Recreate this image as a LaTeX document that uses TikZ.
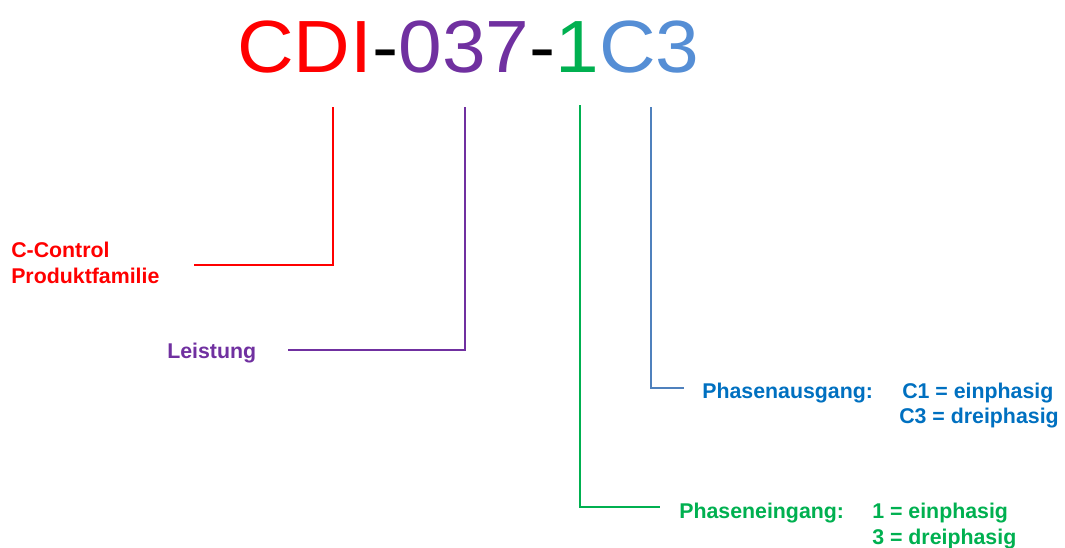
\documentclass[tikz,border=0pt]{standalone}
\usepackage{fontspec}
\setmainfont{Liberation Sans}
\definecolor{cred}{HTML}{FF0000}
\definecolor{cpurple}{HTML}{7030A0}
\definecolor{cgreen}{HTML}{00B050}
\definecolor{cblue}{HTML}{558ED5}
\definecolor{cbluetext}{HTML}{0070C0}
\definecolor{cblueline}{HTML}{4F81BD}
\begin{document}
\begin{tikzpicture}[x=0.75pt,y=-0.75pt,
  titletext/.style={inner sep=0pt,anchor=base west,xscale=1.06,font=\fontsize{55.5}{64}\selectfont},
  lbl/.style={inner sep=0pt,anchor=base west,font=\fontsize{16}{19}\selectfont\bfseries},
  conn/.style={line width=1.5pt}]
\useasboundingbox (0,0) rectangle (1065,547);
\node[titletext] (title) at (237,72) {\textcolor{cred}{CDI}-\textcolor{cpurple}{037}-\textcolor{cgreen}{1}\textcolor{cblue}{C3}};
% line tops under the title characters
\coordinate (tD) at (333,107);
\coordinate (t3) at (465,107);
\coordinate (t1) at (580,105);
\coordinate (tC) at (651,107);
% labels
\node[lbl,text=cred] (cc1) at (11,257) {C-Control};
\node[lbl,text=cred] (cc2) at (11,283) {Produktfamilie};
\node[lbl,text=cpurple] (lei) at (167,358) {Leistung};
\node[lbl,text=cbluetext] (pa) at (702,398) {Phasenausgang:};
\node[lbl,text=cbluetext] (pa1) at (902,398) {C1 = einphasig};
\node[lbl,text=cbluetext] (pa2) at (899,423) {C3 = dreiphasig};
\node[lbl,text=cgreen] (pe) at (679,518) {Phaseneingang:};
\node[lbl,text=cgreen] (pe1) at (872,518) {1 = einphasig};
\node[lbl,text=cgreen] (pe2) at (872,544) {3 = dreiphasig};
% connector ends
\coordinate (eR) at (194,265);
\coordinate (eP) at (288,350);
\coordinate (eB) at (684,388);
\coordinate (eG) at (660,507);
\draw[conn,cred] (tD) |- (eR);
\draw[conn,cpurple] (t3) |- (eP);
\draw[conn,cblueline] (tC) |- (eB);
\draw[conn,cgreen] (t1) |- (eG);
\end{tikzpicture}
\end{document}
